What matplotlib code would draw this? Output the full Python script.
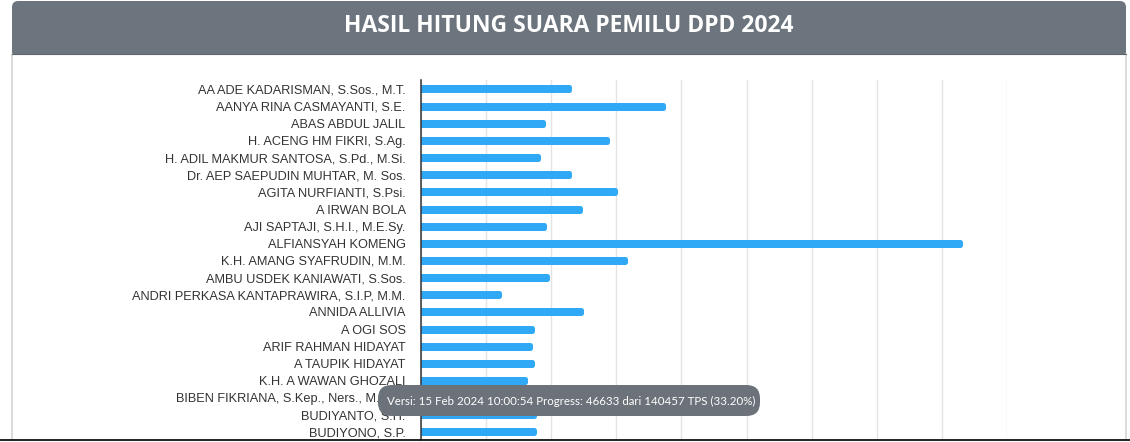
import matplotlib
matplotlib.use("Agg")
import matplotlib.pyplot as plt
from matplotlib.patches import FancyBboxPatch, Rectangle
from matplotlib.lines import Line2D

# ---------------- data ----------------
title = "HASIL HITUNG SUARA PEMILU DPD 2024"
candidates = [
    "AA ADE KADARISMAN, S.Sos., M.T.",
    "AANYA RINA CASMAYANTI, S.E.",
    "ABAS ABDUL JALIL",
    "H. ACENG HM FIKRI, S.Ag.",
    "H. ADIL MAKMUR SANTOSA, S.Pd., M.Si.",
    "Dr. AEP SAEPUDIN MUHTAR, M. Sos.",
    "AGITA NURFIANTI, S.Psi.",
    "A IRWAN BOLA",
    "AJI SAPTAJI, S.H.I., M.E.Sy.",
    "ALFIANSYAH KOMENG",
    "K.H. AMANG SYAFRUDIN, M.M.",
    "AMBU USDEK KANIAWATI, S.Sos.",
    "ANDRI PERKASA KANTAPRAWIRA, S.I.P, M.M.",
    "ANNIDA ALLIVIA",
    "A OGI SOS",
    "ARIF RAHMAN HIDAYAT",
    "A TAUPIK HIDAYAT",
    "K.H. A WAWAN GHOZALI",
    "BIBEN FIKRIANA, S.Kep., Ners., M.Kep.",
    "BUDIYANTO, S.H.",
    "BUDIYONO, S.P.",
]
votes = [455000, 742000, 375000, 572000, 360000, 455000, 595000, 489000,
         378000, 1655000, 628000, 388000, 240000, 492000, 342000, 336000,
         342000, 320000, 400000, 348000, 348000]
x_ticks = [0, 200000, 400000, 600000, 800000, 1000000, 1200000, 1400000,
           1600000, 1800000]
tooltip = "Versi: 15 Feb 2024 10:00:54 Progress: 46633 dari 140457 TPS (33.20%)"

# ---------------- layout ----------------
W, H = 1130, 442
fig = plt.figure(figsize=(W / 100, H / 100), dpi=100)
fig.patch.set_facecolor("white")

def fx(px):
    return px / W

def fy(py):
    return 1 - py / H

# card body border
fig.add_artist(Line2D([fx(11.5), fx(11.5)], [fy(54), fy(440)], color="#d4d4d4", lw=1.2))
fig.add_artist(Line2D([fx(1126), fx(1126)], [fy(54), fy(440)], color="#d4d4d4", lw=1.2))

# header: rounded top, square bottom
hdr = FancyBboxPatch((fx(12), fy(54)), fx(1126) - fx(12), fy(1) - fy(54),
                     boxstyle="round,pad=0,rounding_size=0.0055",
                     transform=fig.transFigure, facecolor="#6c757d",
                     edgecolor="none", mutation_aspect=W / H)
fig.add_artist(hdr)
fig.add_artist(Rectangle((fx(12), fy(54)), fx(1126) - fx(12), fy(30) - fy(54),
                         transform=fig.transFigure, facecolor="#6c757d",
                         edgecolor="none"))
fig.add_artist(Line2D([fx(12), fx(1126)], [fy(53.8), fy(53.8)], color="#5e656c", lw=0.8))
fig.text(fx(569), fy(26), title, color="white", fontsize=16.5,
         fontweight="bold", family="Open Sans", ha="center", va="center")

# axes
row_h = 17.15
top_px, bot_px = 80.4, 440
ax = fig.add_axes([fx(421), fy(bot_px), fx(1007) - fx(421), fy(top_px) - fy(bot_px)])
ax.set_facecolor("none")
n_vis = (bot_px - top_px) / row_h
ax.set_ylim(-0.5 + n_vis, -0.5)
ax.set_xlim(x_ticks[0], x_ticks[-1])

ypos = list(range(len(candidates)))
bar_core = 3.0 / row_h
ax.barh(ypos, votes, height=bar_core, color="#2fa9f5", edgecolor="#2fa9f5",
        linewidth=3.6, joinstyle="round", zorder=3)

ax.set_xticks(x_ticks)
ax.set_xticklabels([])
ax.grid(axis="x", color="#e4e4e4", lw=1, zorder=0)
ax.tick_params(axis="x", length=0)
ax.set_yticks(ypos)
ax.set_yticklabels(candidates, family="Liberation Sans", fontsize=9.2,
                   color="#333333")
ax.tick_params(axis="y", length=0, pad=11)
for s in ["top", "right", "bottom"]:
    ax.spines[s].set_visible(False)
ax.spines["left"].set_color("#333333")
ax.spines["left"].set_linewidth(1.1)
ax.spines["left"].set_zorder(4)

# tooltip
tip = FancyBboxPatch((fx(378), fy(416)), fx(760) - fx(378), fy(385) - fy(416),
                     boxstyle="round,pad=0,rounding_size=0.012",
                     transform=fig.transFigure, facecolor="#6b7279",
                     edgecolor="none", mutation_aspect=W / H, zorder=10)
fig.add_artist(tip)
fig.text(fx(387), fy(401), tooltip, color="white", fontsize=8.3,
         family="Lato", ha="left", va="center", zorder=11)

# bottom black line
fig.add_artist(Line2D([0, 1], [fy(440), fy(440)], color="#111111", lw=1.3))

fig.savefig("out.png", dpi=100)
